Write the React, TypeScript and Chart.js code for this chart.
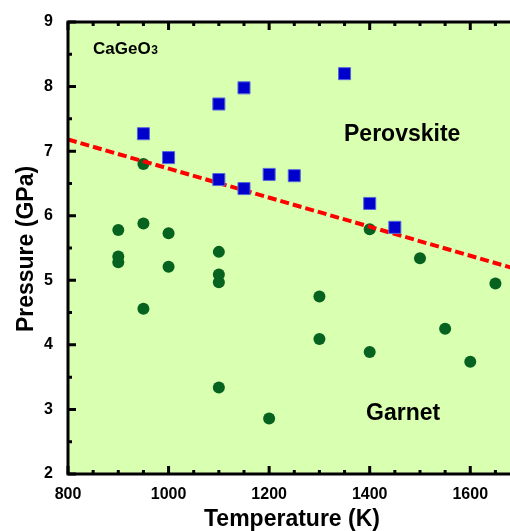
import React, { useEffect, useRef } from 'react';
import { Chart, registerables } from 'chart.js';

Chart.register(...registerables);

// ---- data ----
const perovskiteT = [950, 1000, 1100, 1150, 1350, 1100, 1150, 1200, 1250, 1400, 1450];
const perovskiteP = [7.27, 6.9, 7.73, 7.98, 8.2, 6.56, 6.42, 6.64, 6.62, 6.19, 5.82];

const garnetT = [950, 900, 950, 1000, 900, 900, 1000, 1100, 1100, 1100, 950, 1400, 1500, 1300, 1650, 1550, 1300, 1400, 1600, 1100, 1200];
const garnetP = [6.8, 5.78, 5.88, 5.73, 5.37, 5.28, 5.21, 5.44, 5.09, 4.97, 4.56, 5.79, 5.34, 4.75, 4.95, 4.25, 4.09, 3.89, 3.74, 3.34, 2.86];

const boundaryT = [800, 1680];
const boundaryP = [7.18, 5.2];

const xTickLabels = [800, 1000, 1200, 1400, 1600];
const xMinorStep = 50;
const yTickLabels = [2, 3, 4, 5, 6, 7, 8, 9];
const yMinorStep = 0.5;

const xTitle = 'Temperature (K)';
const yTitle = 'Pressure (GPa)';
const compoundMain = 'CaGeO';
const compoundSub = '3';
const perovskiteLabel = 'Perovskite';
const garnetLabel = 'Garnet';

const X_MIN = 800;
const X_MAX = 1680;
const Y_MIN = 2;
const Y_MAX = 9;

const FONT = '"Liberation Sans", Arial, Helvetica, sans-serif';
const BG = '#D9FFB0';
const TARGET_RIGHT = 510;

const framePlugin = {
  id: 'frame',
  beforeDraw(chart: any) {
    const { ctx, chartArea: a } = chart;
    ctx.save();
    ctx.fillStyle = BG;
    ctx.fillRect(a.left, a.top, a.right - a.left + 4, a.bottom - a.top);
    ctx.restore();
  },
  afterDatasetsDraw(chart: any) {
    const { ctx, chartArea: a, scales } = chart;
    ctx.save();
    ctx.strokeStyle = '#000';
    ctx.lineWidth = 3;
    ctx.lineCap = 'butt';
    ctx.beginPath();
    ctx.moveTo(a.left, a.top);
    ctx.lineTo(a.right + 4, a.top);
    ctx.moveTo(a.left, a.top - 1.5);
    ctx.lineTo(a.left, a.bottom + 1.5);
    ctx.moveTo(a.left, a.bottom);
    ctx.lineTo(a.right + 4, a.bottom);
    ctx.stroke();
    const xs = scales.x;
    ctx.beginPath();
    xs.ticks.forEach((t: any) => {
      const v = t.value;
      const major = xTickLabels.includes(v);
      const len = major ? 8 : 4;
      const px = xs.getPixelForValue(v);
      ctx.moveTo(px, a.bottom);
      ctx.lineTo(px, a.bottom - len);
      ctx.moveTo(px, a.top);
      ctx.lineTo(px, a.top + len);
    });
    const ys = scales.y;
    ys.ticks.forEach((t: any) => {
      const v = t.value;
      const major = yTickLabels.includes(v);
      const len = major ? 8 : 4;
      const py = ys.getPixelForValue(v);
      ctx.moveTo(a.left, py);
      ctx.lineTo(a.left + len, py);
    });
    ctx.stroke();
    ctx.restore();
  },
  afterDraw(chart: any) {
    const { ctx } = chart;
    ctx.save();
    ctx.fillStyle = '#000';
    ctx.textBaseline = 'alphabetic';
    ctx.font = `bold 17px ${FONT}`;
    ctx.textAlign = 'left';
    ctx.fillText(compoundMain, 93, 53.5);
    const w = ctx.measureText(compoundMain).width;
    ctx.font = `bold 12px ${FONT}`;
    ctx.fillText(compoundSub, 93 + w + 0.5, 53.5);
    ctx.font = `bold 23px ${FONT}`;
    ctx.fillText(perovskiteLabel, 344, 140.5);
    ctx.fillText(garnetLabel, 366, 419.5);
    ctx.textAlign = 'center';
    ctx.font = `bold 23px ${FONT}`;
    ctx.fillText(xTitle, 292, 526);
    ctx.translate(33, 249);
    ctx.rotate(-Math.PI / 2);
    ctx.fillText(yTitle, 0, 0);
    ctx.restore();
  },
};

function stepTicks(min: number, max: number, step: number) {
  const out: { value: number }[] = [];
  for (let v = min; v <= max + 1e-9; v += step) {
    out.push({ value: Math.round(v * 1000) / 1000 });
  }
  return out;
}

function makeConfig(): any {
  return {
    type: 'scatter',
    data: {
      datasets: [
        {
          label: 'Perovskite',
          data: perovskiteT.map((t, i) => ({ x: t, y: perovskiteP[i] })),
          pointStyle: 'rect',
          pointRadius: 8.5,
          pointHoverRadius: 8.5,
          backgroundColor: '#0000CC',
          borderColor: '#5566DD',
          borderWidth: 1,
          order: 0,
        },
        {
          type: 'line',
          label: 'Boundary',
          data: boundaryT.map((t, i) => ({ x: t, y: boundaryP[i] })),
          borderColor: '#FF0000',
          borderWidth: 4,
          borderDash: [9, 4],
          pointRadius: 0,
          showLine: true,
          fill: false,
          order: 1,
        },
        {
          label: 'Garnet',
          data: garnetT.map((t, i) => ({ x: t, y: garnetP[i] })),
          pointStyle: 'circle',
          pointRadius: 6,
          pointHoverRadius: 6,
          backgroundColor: '#05621F',
          borderColor: '#05621F',
          borderWidth: 0,
          order: 2,
        },
      ],
    },
    options: {
      animation: false,
      responsive: false,
      maintainAspectRatio: false,
      events: [],
      layout: { padding: { top: 22, right: 0, bottom: 0, left: 0 } },
      plugins: { legend: { display: false }, tooltip: { enabled: false } },
      scales: {
        x: {
          type: 'linear',
          min: X_MIN,
          max: X_MAX,
          border: { display: false },
          grid: { display: false, drawTicks: false },
          afterBuildTicks: (s: any) => {
            s.ticks = stepTicks(X_MIN, X_MAX, xMinorStep);
          },
          ticks: {
            autoSkip: false,
            maxRotation: 0,
            padding: 11,
            color: '#000',
            font: { family: FONT, size: 16, weight: 'bold' },
            callback: (v: any) => (xTickLabels.includes(Number(v)) ? String(v) : ''),
          },
          afterFit: (s: any) => {
            s.height = 57;
            s.paddingLeft = 0;
            s.paddingRight = 0;
          },
        },
        y: {
          type: 'linear',
          min: Y_MIN,
          max: Y_MAX,
          border: { display: false },
          grid: { display: false, drawTicks: false },
          afterBuildTicks: (s: any) => {
            s.ticks = stepTicks(Y_MIN, Y_MAX, yMinorStep);
          },
          ticks: {
            autoSkip: false,
            padding: 15,
            color: '#000',
            font: { family: FONT, size: 16, weight: 'bold' },
            callback: (v: any) => (yTickLabels.includes(Number(v)) ? String(v) : ''),
          },
          afterFit: (s: any) => {
            s.width = 68;
            s.paddingTop = 0;
            s.paddingBottom = 0;
          },
        },
      },
    },
    plugins: [framePlugin],
  };
}

export default function App() {
  const ref = useRef<HTMLCanvasElement | null>(null);
  useEffect(() => {
    const canvas = ref.current;
    if (!canvas) return;
    let chart = new Chart(canvas, makeConfig());
    const deficit = TARGET_RIGHT - chart.chartArea.right;
    if (Math.abs(deficit) > 0.5) {
      const newW = Math.round(canvas.width + deficit);
      chart.destroy();
      canvas.width = newW;
      canvas.style.width = `${newW}px`;
      chart = new Chart(canvas, makeConfig());
    }
    return () => chart.destroy();
  }, []);

  return (
    <div style={{ position: 'absolute', left: 0, top: 0, width: 510, height: 531, overflow: 'hidden' }}>
      <div style={{ width: 540, height: 531 }}>
        <canvas ref={ref} width={510} height={531} style={{ display: 'block' }} />
      </div>
    </div>
  );
}
